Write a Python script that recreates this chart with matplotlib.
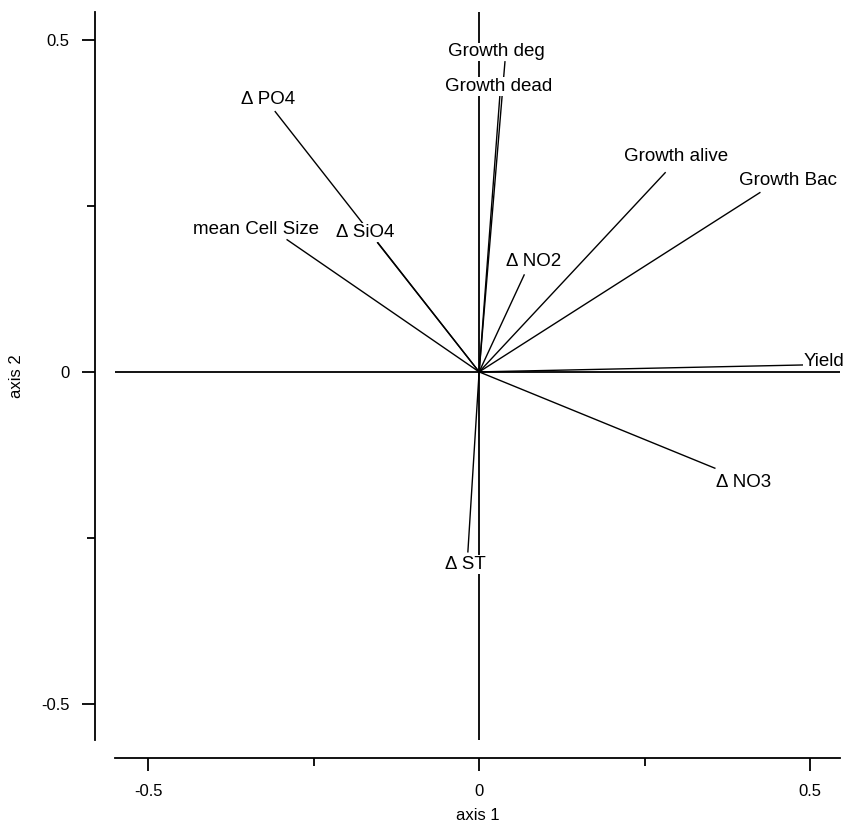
import numpy as np
import matplotlib.pyplot as plt

plt.rcParams['font.family'] = ['Liberation Sans', 'DejaVu Sans']

# vector names, end points (axis 1, axis 2) and label positions
names = ["\u0394 PO4", "\u0394 SiO4", "mean Cell Size", "Growth deg", "Growth dead",
         "\u0394 NO2", "Growth alive", "Growth Bac", "Yield", "\u0394 NO3", "\u0394 ST"]
end_x = [-0.308, -0.153, -0.290, 0.039, 0.032, 0.068, 0.281, 0.424, 0.492, 0.356, -0.017]
end_y = [0.392, 0.194, 0.199, 0.467, 0.425, 0.146, 0.300, 0.270, 0.0105, -0.145, -0.271]
label_x = [-0.319, -0.172, -0.337, 0.026, 0.030, 0.082, 0.298, 0.466, 0.521, 0.399, -0.021]
label_y = [0.410, 0.210, 0.215, 0.482, 0.430, 0.166, 0.324, 0.289, 0.016, -0.167, -0.290]

major_ticks = [-0.5, 0, 0.5]
minor_ticks = [-0.25, 0.25]
tick_labels = ["-0.5", "0", "0.5"]

fig = plt.figure(figsize=(8.58, 8.34), dpi=100)
ax = fig.add_axes([0.134, 0.113, 0.845, 0.8726])
ax.set_xlim(-0.55, 0.545)
ax.set_ylim(-0.554, 0.542)

# zero lines
ax.axhline(0, color='black', lw=1.3, zorder=1)
ax.axvline(0, color='black', lw=1.3, zorder=1)

for i in range(len(names)):
    ax.plot([0, end_x[i]], [0, end_y[i]], color='black', lw=1, zorder=2)
    ax.text(label_x[i], label_y[i], names[i], fontsize=13.5, ha='center', va='center',
            zorder=3, bbox=dict(facecolor='white', edgecolor='none', pad=0.5))

for side in ['top', 'right']:
    ax.spines[side].set_visible(False)
ax.spines['left'].set_position(('outward', 14.4))
ax.spines['bottom'].set_position(('outward', 13))
ax.spines['left'].set_linewidth(1.3)
ax.spines['bottom'].set_linewidth(1.3)

ax.set_xticks(major_ticks)
ax.set_xticklabels(tick_labels)
ax.set_yticks(major_ticks)
ax.set_yticklabels(tick_labels)
ax.set_xticks(minor_ticks, minor=True)
ax.set_yticks(minor_ticks, minor=True)
ax.tick_params(which='major', length=9.5, width=1.3, labelsize=12, pad=9)
ax.tick_params(which='minor', length=6, width=1.3)

ax.set_xlabel("axis 1", fontsize=12, labelpad=7)
ax.set_ylabel("axis 2", fontsize=12, labelpad=12)

fig.savefig("out.png", dpi=100)
